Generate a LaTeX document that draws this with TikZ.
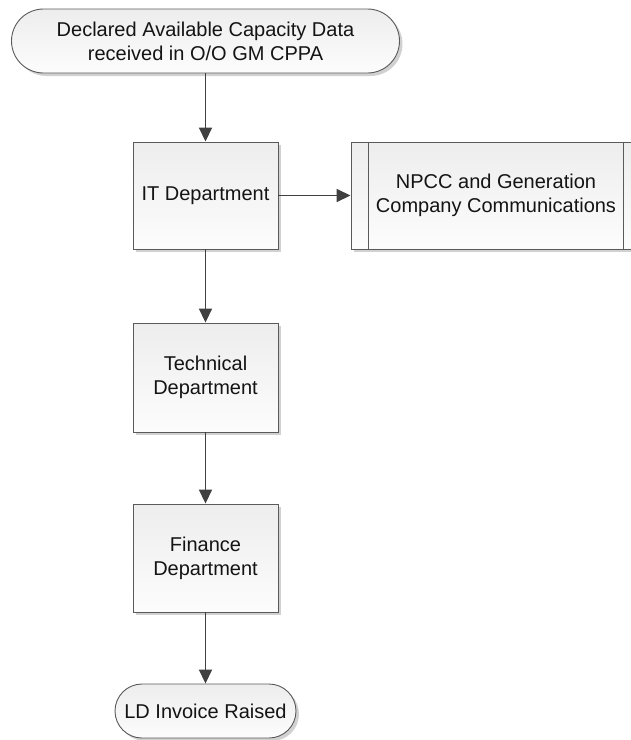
\documentclass[tikz,border=0pt]{standalone}
\usepackage{fontspec}
\setmainfont{Liberation Sans}
\usetikzlibrary{arrows.meta,shadows,calc}
\definecolor{edgegray}{HTML}{5A5A5A}
\definecolor{linkgray}{HTML}{404040}
\begin{document}
\begin{tikzpicture}[x=1pt,y=-1pt,
  base/.style={draw=edgegray, line width=0.9pt, align=center,
    top color=black!7, bottom color=black!1, inner sep=0pt,
    font=\fontsize{20}{24}\selectfont, text=black!92,
    drop shadow={shadow xshift=3pt, shadow yshift=-3pt, fill=black!18, opacity=1}},
  terminal/.style={base, rectangle, rounded corners=#1},
  process/.style={base, rectangle, minimum width=145pt},
  link/.style={draw=linkgray, line width=1.6pt,
    -{Triangle[length=14pt,width=13pt]}}]
\useasboundingbox (0,0) rectangle (631,740);

\node[terminal=32pt, minimum width=388pt, minimum height=64pt] (start) at (205.5,41)
  {Declared Available Capacity Data\\received in O/O GM CPPA};
\node[process, minimum height=107pt] (it) at (205.5,195.5) {IT Department};
\node[base, rectangle, minimum width=290pt, minimum height=107pt] (npcc) at (496,195.5)
  {NPCC and Generation\\Company Communications};
\draw[edgegray, line width=0.9pt]
  ($(npcc.north west)+(18,0)$) -- ($(npcc.south west)+(18,0)$)
  ($(npcc.north east)+(-18,0)$) -- ($(npcc.south east)+(-18,0)$);
\node[process, minimum height=109pt] (tech) at (205.5,377.5) {Technical\\Department};
\node[process, minimum height=108pt] (fin) at (205.5,558) {Finance\\Department};
\node[terminal=27pt, minimum width=181pt, minimum height=54pt] (finish) at (205.5,711)
  {LD Invoice Raised};

\draw[link] (start) -- (it);
\draw[link] (it) -- (npcc);
\draw[link] (it) -- (tech);
\draw[link] (tech) -- (fin);
\draw[link] (fin) -- (finish);
\end{tikzpicture}
\end{document}
